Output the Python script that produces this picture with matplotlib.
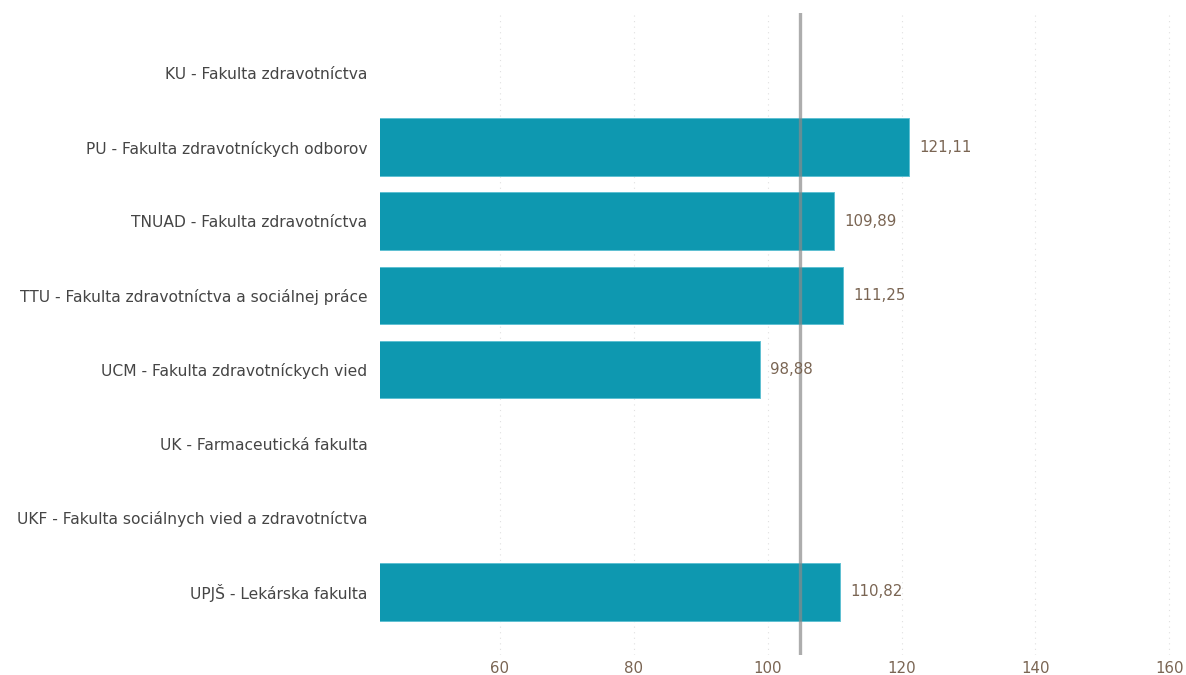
import matplotlib
matplotlib.use("Agg")
import matplotlib.pyplot as plt
import numpy as np

plt.rcParams["font.family"] = ["DejaVu Sans"]

categories = [
    "KU - Fakulta zdravotníctva",
    "PU - Fakulta zdravotníckych odborov",
    "TNUAD - Fakulta zdravotníctva",
    "TTU - Fakulta zdravotníctva a sociálnej práce",
    "UCM - Fakulta zdravotníckych vied",
    "UK - Farmaceutická fakulta",
    "UKF - Fakulta sociálnych vied a zdravotníctva",
    "UPJŠ - Lekárska fakulta",
]
values = [None, 121.11, 109.89, 111.25, 98.88, None, None, 110.82]
reference_value = 104.8
x_ticks = [60, 80, 100, 120, 140, 160]

W, H = 1186, 675
fig = plt.figure(figsize=(W / 100, H / 100), dpi=100)
left_px, right_px, top_px, bottom_px = 380, 1176, 13, 655
ax = fig.add_axes([left_px / W, 1 - bottom_px / H, (right_px - left_px) / W, (bottom_px - top_px) / H])

bar_color = "#0e98b0"
label_color = "#7a6553"
cat_color = "#454545"

y = np.arange(len(categories))
for yi, v in zip(y, values):
    if v is None:
        continue
    ax.barh(yi, v, height=0.78, color=bar_color, edgecolor="#5fc0d2", linewidth=0.7, zorder=2)
    ax.text(v + 1.5, yi, f"{v:.2f}".replace(".", ","), va="center", ha="left",
            color=label_color, fontsize=10.8, zorder=4)

ax.axvline(reference_value, color="#8a8a8a", alpha=0.7, linewidth=2.4, zorder=3)

ax.set_xlim(42.1, 161)
ax.set_ylim(7.85, -0.81)
ax.set_xticks(x_ticks)
ax.set_xticklabels([str(t) for t in x_ticks], color=label_color, fontsize=10.8)
ax.set_yticks(y)
ax.set_yticklabels(categories, color=cat_color, fontsize=11.2)
ax.tick_params(axis="both", length=0)
ax.tick_params(axis="x", pad=4)
ax.tick_params(axis="y", pad=9)
ax.grid(axis="x", linestyle=(0, (1, 4)), color="#e0e0e0", linewidth=0.8, zorder=0)
ax.set_axisbelow(True)
for s in ax.spines.values():
    s.set_visible(False)

fig.savefig("out.png", dpi=100)
